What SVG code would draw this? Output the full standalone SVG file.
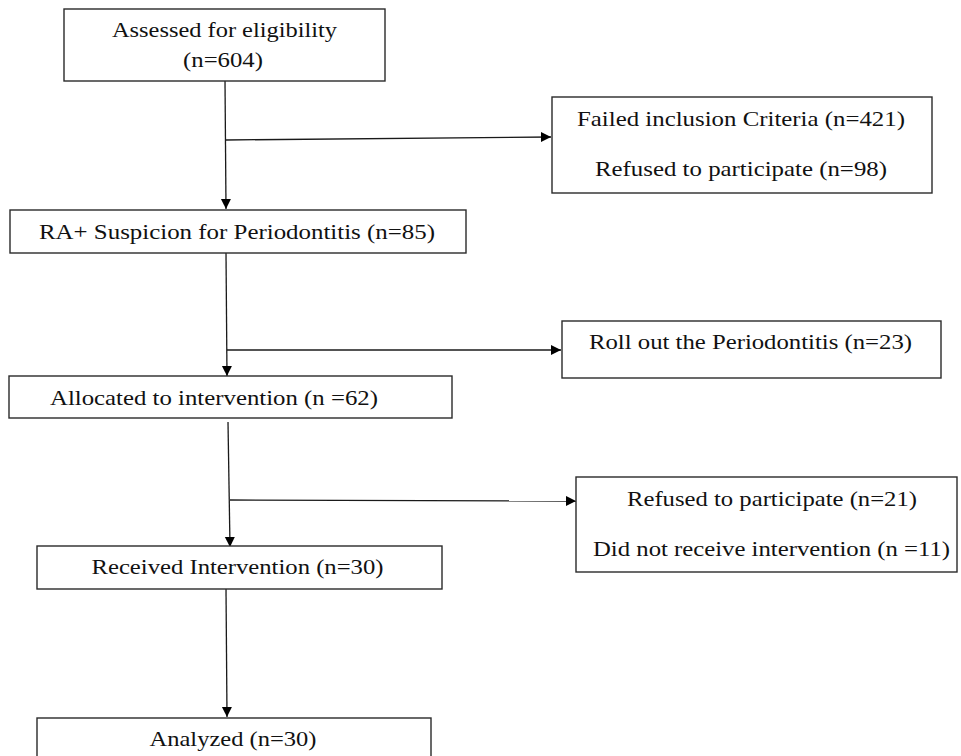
<svg xmlns="http://www.w3.org/2000/svg" width="961" height="756" viewBox="0 0 961 756">
<defs>
<style>
.box{fill:#fff;stroke:#2a2a2a;stroke-width:1.4}
.t{font-family:"Liberation Serif","Times New Roman",serif;font-size:21px;fill:#111;text-anchor:middle}
.c{fill:none;stroke:#1a1a1a;stroke-width:1.3;marker-end:url(#ah)}
</style>
<marker id="ah" markerUnits="userSpaceOnUse" markerWidth="11" markerHeight="11" refX="10" refY="5" orient="auto">
<path d="M0,0 L10,5 L0,10 z" fill="#000"/>
</marker>
</defs>
<rect width="961" height="756" fill="#fff"/>
<g id="connectors">
<path class="c" d="M225,81 L226,209"/>
<path class="c" d="M226,140 L551,137"/>
<path class="c" d="M226,253 L227,376"/>
<path class="c" d="M227,350 L561,350"/>
<path class="c" d="M228,422 L230,547"/>
<path class="c" d="M230,500 L576,501"/>
<path class="c" d="M226,589 L227,717"/>
</g>
<g id="n1"><rect class="box" x="64" y="9" width="321" height="72"/><text class="t" x="224.5" y="37" textLength="225" lengthAdjust="spacingAndGlyphs">Assessed for eligibility</text><text class="t" x="223" y="67" textLength="80" lengthAdjust="spacingAndGlyphs">(n=604)</text></g>
<g id="n2"><rect class="box" x="552" y="97" width="380" height="96"/><text class="t" x="741" y="126" textLength="328" lengthAdjust="spacingAndGlyphs">Failed inclusion Criteria (n=421)</text><text class="t" x="741" y="176" textLength="292" lengthAdjust="spacingAndGlyphs">Refused to participate (n=98)</text></g>
<g id="n3"><rect class="box" x="10" y="210" width="456" height="43"/><text class="t" x="237" y="239" textLength="396" lengthAdjust="spacingAndGlyphs">RA+ Suspicion for Periodontitis (n=85)</text></g>
<g id="n4"><rect class="box" x="562" y="321" width="379" height="57"/><text class="t" x="750.5" y="349" textLength="323" lengthAdjust="spacingAndGlyphs">Roll out the Periodontitis (n=23)</text></g>
<g id="n5"><rect class="box" x="9" y="376" width="443" height="42"/><text class="t" x="214" y="405" textLength="328" lengthAdjust="spacingAndGlyphs">Allocated to intervention (n =62)</text></g>
<g id="n6"><rect class="box" x="576" y="477" width="381" height="95"/><text class="t" x="772" y="506" textLength="290" lengthAdjust="spacingAndGlyphs">Refused to participate (n=21)</text><text class="t" x="771.5" y="556" textLength="357" lengthAdjust="spacingAndGlyphs">Did not receive intervention (n =11)</text></g>
<g id="n7"><rect class="box" x="37" y="546" width="405" height="43"/><text class="t" x="237.5" y="574" textLength="292" lengthAdjust="spacingAndGlyphs">Received Intervention (n=30)</text></g>
<g id="n8"><rect class="box" x="37" y="718" width="394" height="60"/><text class="t" x="233" y="746" textLength="167" lengthAdjust="spacingAndGlyphs">Analyzed (n=30)</text></g>
</svg>
